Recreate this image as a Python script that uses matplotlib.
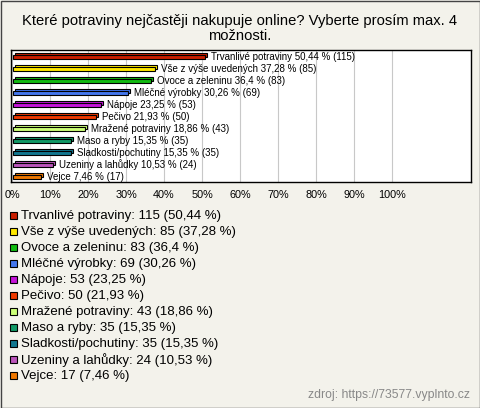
import matplotlib
matplotlib.use("Agg")
import matplotlib.pyplot as plt
from matplotlib.patches import Rectangle

title = "Které potraviny nejčastěji nakupuje online? Vyberte prosím max. 4\nmožnosti."
names = ["Trvanlivé potraviny", "Vše z výše uvedených", "Ovoce a zeleninu",
         "Mléčné výrobky", "Nápoje", "Pečivo", "Mražené potraviny",
         "Maso a ryby", "Sladkosti/pochutiny", "Uzeniny a lahůdky", "Vejce"]
counts = [115, 85, 83, 69, 53, 50, 43, 35, 35, 24, 17]
pcts = [50.44, 37.28, 36.4, 30.26, 23.25, 21.93, 18.86, 15.35, 15.35, 10.53, 7.46]
colors = ["#c81e00", "#ffe800", "#11bb11", "#4477ee", "#c414d8", "#ee3a00",
          "#ccff77", "#119966", "#11778f", "#bb55bb", "#ee7700"]
ticks = list(range(0, 101, 10))
source = "zdroj: https://73577.vyplnto.cz"

plt.rcParams['font.family'] = ['Liberation Sans', 'DejaVu Sans']

W, H = 480, 408
fig = plt.figure(figsize=(W/100, H/100), dpi=100)
bg = '#f3f2eb'
fig.patch.set_facecolor(bg)

def fmt(p):
    return str(p).replace('.', ',')

# bar chart area
ax = fig.add_axes([11/W, 1-182/H, 460/W, 132/H])
ax.set_xlim(-0.26, 120.8)
ax.set_ylim(len(names)-0.58, -0.58)
px = 121.06/460   # one pixel in x data units
py = 11/132       # one pixel in y data units

dx, dy = 2*px, 2*py
h = 4.5*py
for i, (n, c, p, col) in enumerate(zip(names, counts, pcts, colors)):
    # back face (gives the 3d look)
    ax.add_patch(Rectangle((0.3+dx, i-h/2-dy), p, h, fc=col, ec='black', lw=0.8, zorder=3))
    ax.add_patch(Rectangle((0.3, i-h/2), p, h, fc=col, ec='black', lw=0.8, zorder=4))
    ax.text(p+dx+5*px, i, "%s %s %% (%d)" % (n, fmt(p), c), fontsize=7, va='center', zorder=5)

ax.set_xticks(ticks)
ax.set_xticklabels(["%d%%" % t for t in ticks], fontsize=7.8)
ax.tick_params(axis='x', length=0, pad=5.5)
ax.set_yticks([])
ax.grid(axis='x', color='#c8c8c8', lw=0.8)
ax.set_axisbelow(True)
for s in ax.spines.values():
    s.set_color('black')
    s.set_linewidth(1)

fig.text(0.5, 1-28.5/H, title, ha='center', va='center', fontsize=10.6, linespacing=1.1)

# legend + frame, drawn in pixel coordinates
lax = fig.add_axes([0, 0, 1, 1], zorder=-1)
lax.set_xlim(0, W)
lax.set_ylim(H, 0)
lax.axis('off')
for i, (n, c, p, col) in enumerate(zip(names, counts, pcts, colors)):
    y = 215.7 + 16*i
    lax.add_patch(Rectangle((9.5, y-3.8), 7.5, 7.5, fc=col, ec='black', lw=0.8))
    lax.text(21, y, "%s: %d (%s %%)" % (n, c, fmt(p)), fontsize=9.5, va='center')

lax.text(470, 395, source, ha='right', va='center', fontsize=8.8, color='#888888')
lax.add_patch(Rectangle((0.5, 0.5), W-1, H-1, fill=False, ec='#444444', lw=1))

fig.savefig('out.png', dpi=100, facecolor=fig.get_facecolor())
